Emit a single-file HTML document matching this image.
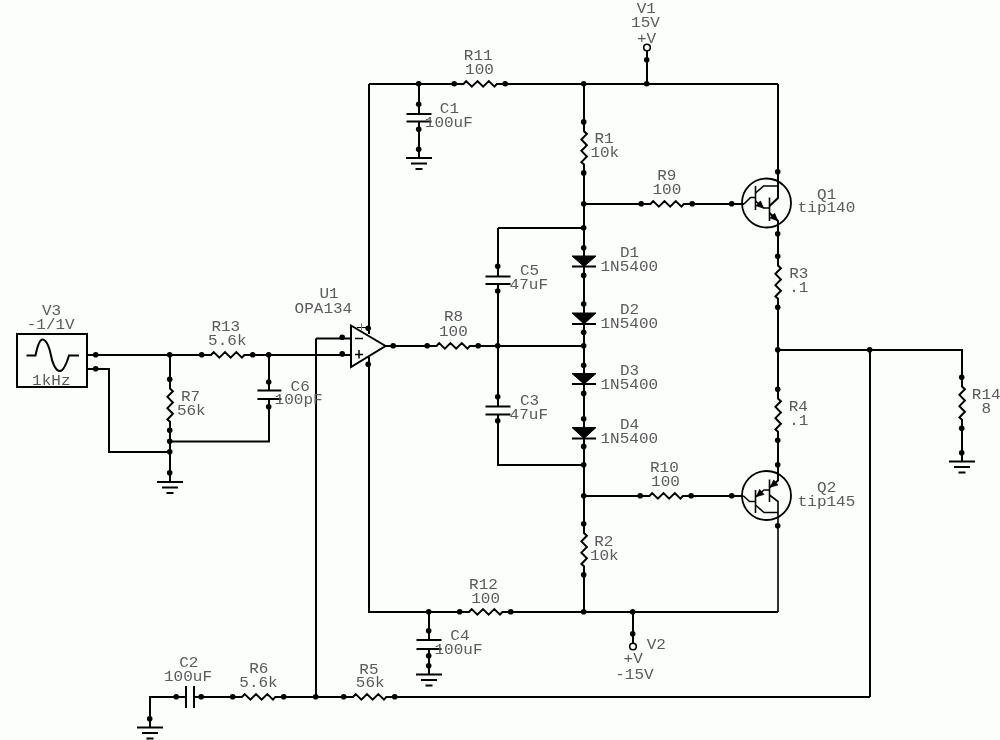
<!DOCTYPE html>
<html><head><meta charset="utf-8"><style>
html,body{margin:0;padding:0;background:#fcfefc;width:1000px;height:740px;overflow:hidden}
svg{display:block}
path,line,rect,circle{stroke:#000;fill:none;stroke-linejoin:miter;stroke-linecap:butt}
.f{fill:#000;stroke:none}
path.f{fill:#000;stroke:#000}
text{font-family:"Liberation Mono",monospace;font-size:16px;fill:#5a5a5a;stroke:none}
.tx{will-change:transform}
</style></head><body>
<svg width="1000" height="740" viewBox="0 0 1000 740">

<path d="M369,84 L454.5,84" stroke-width="2"/>
<path d="M505.5,84 L778,84" stroke-width="2"/>
<path d="M369,84 L369,334" stroke-width="2"/>
<path d="M369,357 L369,612 L460,612" stroke-width="2"/>
<path d="M511,612 L778,612" stroke-width="2"/>
<path d="M584,84 L584,122.2" stroke-width="2"/>
<path d="M584,173.2 L584,524" stroke-width="2"/>
<path d="M584,575 L584,612" stroke-width="2"/>
<path d="M647,51 L647,84" stroke-width="2"/>
<circle cx="646.7" cy="59.7" r="2.8" class="f"/>
<circle cx="646.7" cy="83.7" r="2.8" class="f"/>
<circle cx="647" cy="47.5" r="3.3" fill="none" stroke-width="1.6"/>
<circle cx="583.7" cy="83.7" r="2.8" class="f"/>
<circle cx="418.7" cy="83.7" r="2.8" class="f"/>
<path d="M419,84 L419,114" stroke-width="2"/>
<circle cx="418.7" cy="104.2" r="2.8" class="f"/>
<path d="M406.5,114 L431.5,114" stroke-width="2"/>
<path d="M406.5,121.5 L431.5,121.5" stroke-width="2"/>
<path d="M419,121.5 L419,158" stroke-width="2"/>
<circle cx="418.7" cy="129.2" r="2.8" class="f"/>
<circle cx="418.7" cy="149.2" r="2.8" class="f"/>
<path d="M406,158 L432,158" stroke-width="2"/>
<path d="M411,163.5 L427,163.5" stroke-width="2"/>
<path d="M415.5,169 L422.5,169" stroke-width="2"/>
<circle cx="454.2" cy="83.7" r="2.8" class="f"/>
<circle cx="505.2" cy="83.7" r="2.8" class="f"/>
<path d="M454.5,84 L463.5,84 L466.2,81.1 L471.85,86.6 L477.5,81.1 L483.15,86.6 L488.8,81.1 L494.45,86.6 L496.8,84 L505.5,84" stroke-width="2"/>
<circle cx="583.7" cy="121.89999999999999" r="2.8" class="f"/>
<circle cx="583.7" cy="172.89999999999998" r="2.8" class="f"/>
<path d="M584,122.19999999999999 L584,131.2 L586.9,133.9 L581.4,139.55 L586.9,145.2 L581.4,150.85 L586.9,156.5 L581.4,162.15 L584,164.5 L584,173.2" stroke-width="2"/>
<path d="M584,204 L641.5,204" stroke-width="2"/>
<path d="M692.5,204 L744,204" stroke-width="2"/>
<circle cx="583.7" cy="203.7" r="2.8" class="f"/>
<circle cx="641.2" cy="203.7" r="2.8" class="f"/>
<circle cx="692.2" cy="203.7" r="2.8" class="f"/>
<path d="M641.5,204 L650.5,204 L653.2,201.1 L658.85,206.6 L664.5,201.1 L670.15,206.6 L675.8,201.1 L681.45,206.6 L683.8,204 L692.5,204" stroke-width="2"/>
<circle cx="731.7" cy="203.7" r="2.8" class="f"/>
<circle cx="766.5" cy="203" r="24.5" fill="none" stroke-width="1.8"/>
<path d="M778,84 L778,198 L769.5,206" stroke-width="2"/>
<circle cx="777.7" cy="171.7" r="2.8" class="f"/>
<path d="M744,204 L750.5,197.5 L755.5,197.5" stroke-width="1.6"/>
<path d="M755.5,186 L755.5,210" stroke-width="1.6"/>
<path d="M755.5,193 L763.5,186 L778,186" stroke-width="1.6"/>
<path d="M755.5,201 L763.5,208 L769.5,208" stroke-width="1.6"/>
<path d="M769.5,197.5 L769.5,221" stroke-width="1.6"/>
<path d="M769.5,213 L778,221 L778,256.5" stroke-width="2"/>
<path d="M763.50,208.00 L756.06,205.87 L760.41,200.91 Z" class="f" stroke-width="0.8"/>
<path d="M777.50,220.50 L770.14,218.12 L774.65,213.30 Z" class="f" stroke-width="0.8"/>
<circle cx="777.7" cy="233.7" r="2.8" class="f"/>
<circle cx="777.7" cy="256.2" r="2.8" class="f"/>
<circle cx="777.7" cy="307.2" r="2.8" class="f"/>
<path d="M778,256.5 L778,265.5 L780.9,268.2 L775.4,273.85 L780.9,279.5 L775.4,285.15 L780.9,290.8 L775.4,296.45 L778,298.8 L778,307.5" stroke-width="2"/>
<path d="M778,307.5 L778,390" stroke-width="2"/>
<path d="M778,350 L962,350 L962,377.5" stroke-width="2"/>
<circle cx="777.7" cy="349.7" r="2.8" class="f"/>
<circle cx="869.7" cy="349.7" r="2.8" class="f"/>
<path d="M870,350 L870,697" stroke-width="2"/>
<circle cx="961.7" cy="377.2" r="2.8" class="f"/>
<circle cx="961.7" cy="428.2" r="2.8" class="f"/>
<path d="M962,377.5 L962,386.5 L964.9,389.2 L959.4,394.85 L964.9,400.5 L959.4,406.15 L964.9,411.8 L959.4,417.45 L962,419.8 L962,428.5" stroke-width="2"/>
<path d="M962,428.5 L962,461.5" stroke-width="2"/>
<circle cx="961.7" cy="452.7" r="2.8" class="f"/>
<path d="M949,461.5 L975,461.5" stroke-width="2"/>
<path d="M954,467.0 L970,467.0" stroke-width="2"/>
<path d="M958.5,472.5 L965.5,472.5" stroke-width="2"/>
<circle cx="777.7" cy="389.2" r="2.8" class="f"/>
<circle cx="777.7" cy="440.2" r="2.8" class="f"/>
<path d="M778,389.5 L778,398.5 L780.9,401.2 L775.4,406.85 L780.9,412.5 L775.4,418.15 L780.9,423.8 L775.4,429.45 L778,431.8 L778,440.5" stroke-width="2"/>
<path d="M778,440.5 L778,480.5 L769.5,487.5" stroke-width="2"/>
<circle cx="777.7" cy="464.7" r="2.8" class="f"/>
<circle cx="766.5" cy="495.5" r="24.5" fill="none" stroke-width="1.8"/>
<path d="M584,496 L640.5,496" stroke-width="2"/>
<path d="M691.5,496 L743.5,496" stroke-width="2"/>
<circle cx="583.7" cy="495.7" r="2.8" class="f"/>
<circle cx="640.2" cy="495.7" r="2.8" class="f"/>
<circle cx="691.2" cy="495.7" r="2.8" class="f"/>
<path d="M640.5,496 L649.5,496 L652.2,493.1 L657.85,498.6 L663.5,493.1 L669.15,498.6 L674.8,493.1 L680.45,498.6 L682.8,496 L691.5,496" stroke-width="2"/>
<circle cx="731.7" cy="495.7" r="2.8" class="f"/>
<path d="M743.5,496 L749.5,501.5 L755.5,501.5" stroke-width="1.6"/>
<path d="M755.5,490 L755.5,513" stroke-width="1.6"/>
<path d="M769.5,490 L764,490 L755.5,497" stroke-width="1.6"/>
<path d="M755.5,505 L764,512.5 L778,512.5" stroke-width="1.6"/>
<path d="M769.5,479.5 L769.5,502" stroke-width="1.6"/>
<path d="M769.5,495 L778,501.5 L778,612" stroke-width="1.6"/>
<path d="M770.50,487.00 L773.63,479.92 L777.95,484.91 Z" class="f" stroke-width="0.8"/>
<path d="M756.50,496.50 L759.63,489.42 L763.95,494.41 Z" class="f" stroke-width="0.8"/>
<circle cx="777.7" cy="525.7" r="2.8" class="f"/>
<circle cx="428.7" cy="611.7" r="2.8" class="f"/>
<circle cx="583.7" cy="611.7" r="2.8" class="f"/>
<circle cx="632.7" cy="611.7" r="2.8" class="f"/>
<circle cx="459.7" cy="611.7" r="2.8" class="f"/>
<circle cx="510.7" cy="611.7" r="2.8" class="f"/>
<path d="M460.0,612 L469.0,612 L471.7,609.1 L477.35,614.6 L483.0,609.1 L488.65,614.6 L494.3,609.1 L499.95,614.6 L502.3,612 L511.0,612" stroke-width="2"/>
<path d="M429,612 L429,640" stroke-width="2"/>
<circle cx="428.7" cy="630.7" r="2.8" class="f"/>
<path d="M416.5,640 L441.5,640" stroke-width="2"/>
<path d="M416.5,649 L441.5,649" stroke-width="2"/>
<path d="M429,649 L429,674.5" stroke-width="2"/>
<circle cx="428.7" cy="655.7" r="2.8" class="f"/>
<circle cx="428.7" cy="665.7" r="2.8" class="f"/>
<path d="M416,674.5 L442,674.5" stroke-width="2"/>
<path d="M421,680.0 L437,680.0" stroke-width="2"/>
<path d="M425.5,685.5 L432.5,685.5" stroke-width="2"/>
<circle cx="583.7" cy="523.7" r="2.8" class="f"/>
<circle cx="583.7" cy="574.7" r="2.8" class="f"/>
<path d="M584,524.0 L584,533.0 L586.9,535.7 L581.4,541.35 L586.9,547.0 L581.4,552.65 L586.9,558.3 L581.4,563.95 L584,566.3 L584,575.0" stroke-width="2"/>
<path d="M633,612 L633,643" stroke-width="2"/>
<circle cx="632.7" cy="633.7" r="2.8" class="f"/>
<circle cx="633" cy="646.5" r="3.3" fill="none" stroke-width="1.6"/>
<path d="M498,228 L584,228" stroke-width="2"/>
<circle cx="583.7" cy="227.7" r="2.8" class="f"/>
<path d="M498,228 L498,276.5" stroke-width="2"/>
<circle cx="497.7" cy="266.2" r="2.8" class="f"/>
<path d="M485.5,276.5 L510.5,276.5" stroke-width="2"/>
<path d="M485.5,284 L510.5,284" stroke-width="2"/>
<path d="M498,284 L498,406.5" stroke-width="2"/>
<circle cx="497.7" cy="291.0" r="2.8" class="f"/>
<circle cx="497.7" cy="345.7" r="2.8" class="f"/>
<circle cx="497.7" cy="396.7" r="2.8" class="f"/>
<path d="M485.5,406.5 L510.5,406.5" stroke-width="2"/>
<path d="M485.5,414.5 L510.5,414.5" stroke-width="2"/>
<path d="M498,414.5 L498,465 L584,465" stroke-width="2"/>
<circle cx="497.7" cy="420.7" r="2.8" class="f"/>
<circle cx="583.7" cy="464.7" r="2.8" class="f"/>
<path d="M393.5,346 L427.5,346" stroke-width="2"/>
<path d="M478.5,346 L584,346" stroke-width="2"/>
<circle cx="393.2" cy="345.7" r="2.8" class="f"/>
<circle cx="427.2" cy="345.7" r="2.8" class="f"/>
<circle cx="478.2" cy="345.7" r="2.8" class="f"/>
<path d="M427.5,346 L436.5,346 L439.2,343.1 L444.85,348.6 L450.5,343.1 L456.15,348.6 L461.8,343.1 L467.45,348.6 L469.8,346 L478.5,346" stroke-width="2"/>
<circle cx="583.7" cy="345.7" r="2.8" class="f"/>
<path d="M572,256 L596,256 L584,266.5 Z" class="f" stroke-width="1"/>
<path d="M572,266.5 L596,266.5" stroke-width="2"/>
<circle cx="583.7" cy="247.7" r="2.8" class="f"/>
<circle cx="583.7" cy="275.4" r="2.8" class="f"/>
<path d="M572,313 L596,313 L584,324 Z" class="f" stroke-width="1"/>
<path d="M572,324 L596,324" stroke-width="2"/>
<circle cx="583.7" cy="304.0" r="2.8" class="f"/>
<circle cx="583.7" cy="332.2" r="2.8" class="f"/>
<path d="M572,373.5 L596,373.5 L584,384 Z" class="f" stroke-width="1"/>
<path d="M572,384 L596,384" stroke-width="2"/>
<circle cx="583.7" cy="365.2" r="2.8" class="f"/>
<circle cx="583.7" cy="393.4" r="2.8" class="f"/>
<path d="M572,427.5 L596,427.5 L584,438.5 Z" class="f" stroke-width="1"/>
<path d="M572,438.5 L596,438.5" stroke-width="2"/>
<circle cx="583.7" cy="418.7" r="2.8" class="f"/>
<circle cx="583.7" cy="446.4" r="2.8" class="f"/>
<path d="M351,325.5 L385.5,346 L351,367 Z" fill="none" stroke-width="2"/>
<path d="M385.5,346 L393.5,346" stroke-width="2"/>
<circle cx="368.2" cy="328.2" r="2.8" class="f"/>
<circle cx="368.2" cy="364.2" r="2.8" class="f"/>
<path d="M357,327.5 L368,327.5" stroke-width="1"/>
<path d="M361.5,323.5 L361.5,330" stroke-width="1" style="stroke:#777"/>
<path d="M316,338.5 L351,338.5" stroke-width="2"/>
<circle cx="342.2" cy="337.3" r="2.8" class="f"/>
<path d="M316,338.5 L316,697" stroke-width="2"/>
<path d="M355,338.5 L363,338.5" stroke-width="1.5"/>
<path d="M355,354.5 L363,354.5" stroke-width="1.5"/>
<path d="M359,350 L359,358.5" stroke-width="1.5"/>
<rect x="17" y="334" width="70" height="53" fill="none" stroke-width="2"/>
<path d="M26.5,355.5 L35.5,355.5 C37,348 39,339.5 42.5,339.5 C47,339.5 50,350 51,355.5 C52,362 55.5,371 60,371 C64,371 67,362 69,355.5 L79,355.5" fill="none" stroke-width="2"/>
<path d="M87,355 L202,355" stroke-width="2"/>
<path d="M253,355 L351,355" stroke-width="2"/>
<circle cx="95.7" cy="354.7" r="2.8" class="f"/>
<circle cx="169.7" cy="354.7" r="2.8" class="f"/>
<circle cx="268.7" cy="354.7" r="2.8" class="f"/>
<circle cx="342.2" cy="353.9" r="2.8" class="f"/>
<path d="M87,369 L109,369 L109,452 L170,452" stroke-width="2"/>
<circle cx="95.7" cy="368.7" r="2.8" class="f"/>
<path d="M170,355 L170,380" stroke-width="2"/>
<path d="M170,430 L170,482" stroke-width="2"/>
<circle cx="169.7" cy="379.2" r="2.8" class="f"/>
<circle cx="169.7" cy="430.2" r="2.8" class="f"/>
<path d="M170,379.5 L170,388.5 L172.9,391.2 L167.4,396.85 L172.9,402.5 L167.4,408.15 L172.9,413.8 L167.4,419.45 L170,421.8 L170,430.5" stroke-width="2"/>
<circle cx="169.7" cy="441.2" r="2.8" class="f"/>
<circle cx="169.7" cy="451.7" r="2.8" class="f"/>
<circle cx="169.7" cy="472.7" r="2.8" class="f"/>
<path d="M157,482 L183,482" stroke-width="2"/>
<path d="M162,487.5 L178,487.5" stroke-width="2"/>
<path d="M166.5,493 L173.5,493" stroke-width="2"/>
<circle cx="201.7" cy="354.7" r="2.8" class="f"/>
<circle cx="252.7" cy="354.7" r="2.8" class="f"/>
<path d="M202.0,355 L211.0,355 L213.7,352.1 L219.35,357.6 L225.0,352.1 L230.65,357.6 L236.3,352.1 L241.95,357.6 L244.3,355 L253.0,355" stroke-width="2"/>
<path d="M269,355 L269,390.5" stroke-width="2"/>
<circle cx="268.7" cy="382.0" r="2.8" class="f"/>
<path d="M257.4,390.5 L281.4,390.5" stroke-width="2"/>
<path d="M257.4,399 L281.4,399" stroke-width="2"/>
<path d="M269,399 L269,441.5 L170,441.5" stroke-width="2"/>
<circle cx="268.7" cy="406.7" r="2.8" class="f"/>
<path d="M150,727.5 L150,697 L186,697" stroke-width="2"/>
<path d="M194,697 L233,697" stroke-width="2"/>
<path d="M284,697 L344,697" stroke-width="2"/>
<path d="M395,697 L870,697" stroke-width="2"/>
<circle cx="149.7" cy="718.7" r="2.8" class="f"/>
<path d="M137,727.5 L163,727.5" stroke-width="2"/>
<path d="M142,733.0 L158,733.0" stroke-width="2"/>
<path d="M146.5,738.5 L153.5,738.5" stroke-width="2"/>
<path d="M186,686 L186,708" stroke-width="2"/>
<path d="M194,686 L194,708" stroke-width="2"/>
<circle cx="176.2" cy="696.7" r="2.8" class="f"/>
<circle cx="201.2" cy="696.7" r="2.8" class="f"/>
<circle cx="232.7" cy="696.7" r="2.8" class="f"/>
<circle cx="283.7" cy="696.7" r="2.8" class="f"/>
<path d="M233.0,697 L242.0,697 L244.7,694.1 L250.35,699.6 L256.0,694.1 L261.65,699.6 L267.3,694.1 L272.95,699.6 L275.3,697 L284.0,697" stroke-width="2"/>
<circle cx="315.7" cy="696.7" r="2.8" class="f"/>
<circle cx="343.7" cy="696.7" r="2.8" class="f"/>
<circle cx="394.7" cy="696.7" r="2.8" class="f"/>
<path d="M344.0,697 L353.0,697 L355.7,694.1 L361.35,699.6 L367.0,694.1 L372.65,699.6 L378.3,694.1 L383.95,699.6 L386.3,697 L395.0,697" stroke-width="2"/>
<g style="opacity:0.999"><text transform="translate(646.3,12.8) scale(1,0.88)" text-anchor="middle">V1</text>
<text transform="translate(645.5,26.8) scale(1,0.88)" text-anchor="middle">15V</text>
<text transform="translate(646.5,42.6) scale(1,0.88)" text-anchor="middle">+V</text>
<text transform="translate(478.2,59.8) scale(1,0.88)" text-anchor="middle">R11</text>
<text transform="translate(479.5,73.8) scale(1,0.88)" text-anchor="middle">100</text>
<text transform="translate(449.4,112.8) scale(1,0.88)" text-anchor="middle">C1</text>
<text transform="translate(448.8,126.7) scale(1,0.88)" text-anchor="middle">100uF</text>
<text transform="translate(604,143.4) scale(1,0.88)" text-anchor="middle">R1</text>
<text transform="translate(604.8,157) scale(1,0.88)" text-anchor="middle">10k</text>
<text transform="translate(666.8,179.7) scale(1,0.88)" text-anchor="middle">R9</text>
<text transform="translate(666.9,193.7) scale(1,0.88)" text-anchor="middle">100</text>
<text transform="translate(826.7,198.6) scale(1,0.88)" text-anchor="middle">Q1</text>
<text transform="translate(826.5,212.3) scale(1,0.88)" text-anchor="middle">tip140</text>
<text transform="translate(629.6,256.6) scale(1,0.88)" text-anchor="middle">D1</text>
<text transform="translate(629.3,271) scale(1,0.88)" text-anchor="middle">1N5400</text>
<text transform="translate(629.6,314.4) scale(1,0.88)" text-anchor="middle">D2</text>
<text transform="translate(629.3,327.6) scale(1,0.88)" text-anchor="middle">1N5400</text>
<text transform="translate(629.6,375) scale(1,0.88)" text-anchor="middle">D3</text>
<text transform="translate(629.3,388.6) scale(1,0.88)" text-anchor="middle">1N5400</text>
<text transform="translate(629.6,429) scale(1,0.88)" text-anchor="middle">D4</text>
<text transform="translate(629.3,442.6) scale(1,0.88)" text-anchor="middle">1N5400</text>
<text transform="translate(798.8,277.8) scale(1,0.88)" text-anchor="middle">R3</text>
<text transform="translate(798.8,291.8) scale(1,0.88)" text-anchor="middle">.1</text>
<text transform="translate(798.3,411) scale(1,0.88)" text-anchor="middle">R4</text>
<text transform="translate(798.8,424.8) scale(1,0.88)" text-anchor="middle">.1</text>
<text transform="translate(986.2,398.6) scale(1,0.88)" text-anchor="middle">R14</text>
<text transform="translate(986.3,412.6) scale(1,0.88)" text-anchor="middle">8</text>
<text transform="translate(826.7,491.6) scale(1,0.88)" text-anchor="middle">Q2</text>
<text transform="translate(826.5,505.5) scale(1,0.88)" text-anchor="middle">tip145</text>
<text transform="translate(664.4,472) scale(1,0.88)" text-anchor="middle">R10</text>
<text transform="translate(665.5,485.6) scale(1,0.88)" text-anchor="middle">100</text>
<text transform="translate(603.8,546.2) scale(1,0.88)" text-anchor="middle">R2</text>
<text transform="translate(604.3,560.2) scale(1,0.88)" text-anchor="middle">10k</text>
<text transform="translate(483.5,588.6) scale(1,0.88)" text-anchor="middle">R12</text>
<text transform="translate(485.6,602.6) scale(1,0.88)" text-anchor="middle">100</text>
<text transform="translate(459.9,640) scale(1,0.88)" text-anchor="middle">C4</text>
<text transform="translate(458.5,654) scale(1,0.88)" text-anchor="middle">100uF</text>
<text transform="translate(656.3,648.8) scale(1,0.88)" text-anchor="middle">V2</text>
<text transform="translate(633.2,662.7) scale(1,0.88)" text-anchor="middle">+V</text>
<text transform="translate(634.4,678.5) scale(1,0.88)" text-anchor="middle">-15V</text>
<text transform="translate(368.9,674) scale(1,0.88)" text-anchor="middle">R5</text>
<text transform="translate(370.2,687.3) scale(1,0.88)" text-anchor="middle">56k</text>
<text transform="translate(258.8,673) scale(1,0.88)" text-anchor="middle">R6</text>
<text transform="translate(258.5,687) scale(1,0.88)" text-anchor="middle">5.6k</text>
<text transform="translate(188.8,667) scale(1,0.88)" text-anchor="middle">C2</text>
<text transform="translate(188,681) scale(1,0.88)" text-anchor="middle">100uF</text>
<text transform="translate(51.6,314.6) scale(1,0.88)" text-anchor="middle">V3</text>
<text transform="translate(50.7,329.2) scale(1,0.88)" text-anchor="middle">-1/1V</text>
<text transform="translate(51.3,384.5) scale(1,0.88)" text-anchor="middle">1kHz</text>
<text transform="translate(225.8,330.5) scale(1,0.88)" text-anchor="middle">R13</text>
<text transform="translate(227.3,344.7) scale(1,0.88)" text-anchor="middle">5.6k</text>
<text transform="translate(190.5,401) scale(1,0.88)" text-anchor="middle">R7</text>
<text transform="translate(191.3,415) scale(1,0.88)" text-anchor="middle">56k</text>
<text transform="translate(300.2,390.6) scale(1,0.88)" text-anchor="middle">C6</text>
<text transform="translate(298.6,404.2) scale(1,0.88)" text-anchor="middle">100pF</text>
<text transform="translate(329,297.8) scale(1,0.88)" text-anchor="middle">U1</text>
<text transform="translate(323.4,312.6) scale(1,0.88)" text-anchor="middle">OPA134</text>
<text transform="translate(529.6,274.6) scale(1,0.88)" text-anchor="middle">C5</text>
<text transform="translate(528.8,288.5) scale(1,0.88)" text-anchor="middle">47uF</text>
<text transform="translate(529.6,405.3) scale(1,0.88)" text-anchor="middle">C3</text>
<text transform="translate(528.8,418.8) scale(1,0.88)" text-anchor="middle">47uF</text>
<text transform="translate(453.5,321.3) scale(1,0.88)" text-anchor="middle">R8</text>
<text transform="translate(453.4,335.9) scale(1,0.88)" text-anchor="middle">100</text></g>
</svg></body></html>
